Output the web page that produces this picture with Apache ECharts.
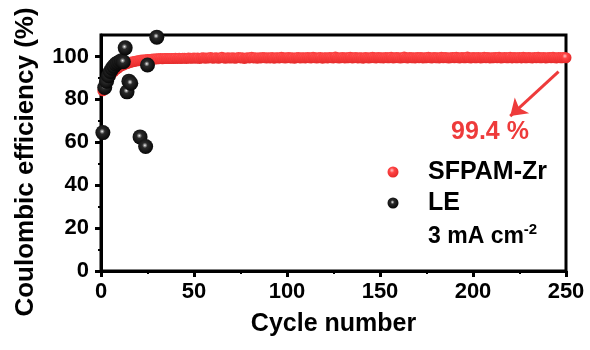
<!DOCTYPE html>
<html>
<head>
<meta charset="utf-8">
<script src="https://cdn.jsdelivr.net/npm/echarts@6/dist/echarts.min.js"></script>
<style>html,body{margin:0;padding:0;background:#fff}#c{width:590px;height:350px}</style>
</head>
<body>
<div id="c"></div>
<script>
// SFPAM-Zr coulombic efficiency, cycles 1..250
var sfpamValues = [
84.0, 86.5, 88.3, 89.8, 91.1, 92.2, 93.1, 93.9, 94.5, 95.1,
95.6, 96.0, 96.4, 96.7, 97.0, 97.3, 97.5, 97.7, 97.9, 98.0,
98.2, 98.3, 98.4, 98.5, 98.6, 98.6, 98.7, 98.8, 98.8, 98.9,
98.9, 99.0, 98.9, 99.0, 99.1, 99.0, 99.1, 99.1, 99.0, 99.2, 99.1, 99.2, 99.1, 99.2, 99.2, 99.1, 99.3, 99.2, 99.2, 99.3,
99.2, 99.3, 99.1, 99.3, 99.4, 99.2, 99.3, 99.3, 99.5, 99.2, 99.3, 99.4, 99.2, 99.3, 99.6, 99.3, 99.2, 99.4, 99.3, 99.3,
99.4, 99.2, 99.3, 99.5, 99.3, 99.4, 99.1, 99.3, 99.4, 99.3, 99.6, 99.3, 99.4, 99.2, 99.4, 99.3, 99.5, 99.4, 99.3, 99.4,
99.3, 99.5, 99.2, 99.4, 99.4, 99.3, 99.6, 99.4, 99.3, 99.4, 99.5, 99.3, 99.4, 99.2, 99.4, 99.5, 99.3, 99.4, 99.4, 99.3,
99.5, 99.4, 99.3, 99.6, 99.4, 99.3, 99.4, 99.5, 99.2, 99.4, 99.4, 99.3, 99.5, 99.4, 99.3, 99.7, 99.4, 99.3, 99.4, 99.5,
99.3, 99.4, 99.4, 99.6, 99.3, 99.4, 99.5, 99.3, 99.4, 99.4, 99.2, 99.5, 99.4, 99.3, 99.4, 99.6, 99.4, 99.3, 99.5, 99.4,
99.4, 99.3, 99.5, 99.4, 99.4, 99.6, 99.3, 99.4, 99.5, 99.4, 99.3, 99.4, 99.7, 99.4, 99.3, 99.5, 99.4, 99.4, 99.3, 99.5,
99.4, 99.5, 99.3, 99.4, 99.4, 99.6, 99.4, 99.3, 99.5, 99.4, 99.4, 99.3, 99.6, 99.4, 99.5, 99.4, 99.3, 99.4, 99.5, 99.4,
99.6, 99.4, 99.3, 99.5, 99.4, 99.4, 99.7, 99.4, 99.3, 99.5, 99.4, 99.4, 99.5, 99.3, 99.4, 99.6, 99.4, 99.5, 99.3, 99.4,
99.4, 99.5, 99.4, 99.6, 99.3, 99.4, 99.5, 99.4, 99.4, 99.6, 99.3, 99.5, 99.4, 99.4, 99.5, 99.3, 99.6, 99.4, 99.4, 99.5,
99.4, 99.3, 99.5, 99.4, 99.6, 99.4, 99.4, 99.5, 99.3, 99.4, 99.5, 99.4, 99.6, 99.4, 99.3, 99.5, 99.4, 99.4, 99.5, 99.4
];
// LE (liquid electrolyte) points
var leCycles = [1, 2, 3, 4, 5, 6, 7, 8, 9, 10, 11, 12, 13, 14, 15, 16, 21, 24, 25, 30];
var leValues = [64.5, 85.5, 88.5, 91.0, 93.0, 94.5, 95.5, 96.5, 97.0, 97.5, 98.0, 97.5, 104.0, 83.5, 88.5, 87.5, 62.5, 58.0, 96.0, 109.0];
// axis ticks
var xTicks = [0, 50, 100, 150, 200, 250];
var xMinorTicks = [25, 75, 125, 175, 225];
var yTicks = [0, 20, 40, 60, 80, 100];
var yMinorTicks = [10, 30, 50, 70, 90];
// annotation
var finalLabel = '99.4 %';
var arrowFrom = [246, 92.9];
var arrowTo = [220, 72.2];

var FONT = "'Liberation Sans', Arial, sans-serif";
var RED = '#ee3b3b';
var redBall = {type: 'radial', x: 0.4, y: 0.35, r: 0.65, colorStops: [
  {offset: 0, color: '#ffc4c4'}, {offset: 0.35, color: '#ff4444'}, {offset: 1, color: '#e42a2a'}]};
var blackBall = {type: 'radial', x: 0.45, y: 0.42, r: 0.6, colorStops: [
  {offset: 0, color: '#ffffff'}, {offset: 0.12, color: '#9a9a9a'}, {offset: 0.3, color: '#2a2a2a'}, {offset: 1, color: '#050505'}]};

var sfpamData = sfpamValues.map(function (v, i) { return [i + 1, v]; });
var leData = leCycles.map(function (c, i) { return [c, leValues[i]]; });

var chart = echarts.init(document.getElementById('c'), null, {renderer: 'canvas'});
var axisFont = {color: '#000', fontFamily: FONT, fontWeight: 'bold', fontSize: 22};
var nameFont = {color: '#000', fontFamily: FONT, fontWeight: 'bold', fontSize: 25};

chart.setOption({
  animation: false,
  grid: {left: 101, right: 24, top: 35, bottom: 79, show: true, borderColor: '#000', borderWidth: 3,
         backgroundColor: 'transparent', containLabel: false, outerBoundsMode: 'none'},
  xAxis: [{
    type: 'value', min: 0, max: 250, interval: 50,
    name: 'Cycle number', nameLocation: 'middle', nameGap: 41, nameTextStyle: nameFont,
    axisLine: {show: true, onZero: false, lineStyle: {color: '#000', width: 3}},
    axisTick: {show: true, inside: false, length: 6, lineStyle: {color: '#000', width: 3}, customValues: xTicks},
    axisLabel: Object.assign({margin: 10, customValues: xTicks}, axisFont),
    splitLine: {show: false}
  }, {
    type: 'value', min: 0, max: 250, position: 'bottom', gridIndex: 0,
    axisLine: {show: false},
    axisTick: {show: true, length: 3, lineStyle: {color: '#000', width: 2}, customValues: xMinorTicks},
    axisLabel: {show: false}, splitLine: {show: false}
  }],
  yAxis: [{
    type: 'value', min: 0, max: 110,
    name: 'Coulombic efficiency (%)', nameLocation: 'middle', nameGap: 62,
    nameTextStyle: Object.assign({}, nameFont, {fontSize: 26, padding: [0, 18, 0, 0]}),
    axisLine: {show: true, onZero: false, lineStyle: {color: '#000', width: 3}},
    axisTick: {show: true, inside: false, length: 6, lineStyle: {color: '#000', width: 3}, customValues: yTicks},
    axisLabel: Object.assign({margin: 12, customValues: yTicks}, axisFont),
    splitLine: {show: false}
  }, {
    type: 'value', min: 0, max: 110, position: 'left', gridIndex: 0,
    axisLine: {show: false},
    axisTick: {show: true, length: 3, lineStyle: {color: '#000', width: 2}, customValues: yMinorTicks},
    axisLabel: {show: false}, splitLine: {show: false}
  }],
  series: [{
    name: 'SFPAM-Zr', type: 'scatter', data: sfpamData, symbolSize: 11,
    itemStyle: {color: redBall, opacity: 1}, z: 2,
    markLine: {
      silent: true, symbol: ['none', 'arrow'], symbolSize: 16,
      lineStyle: {color: RED, width: 3, type: 'solid', opacity: 1}, itemStyle: {color: RED}, label: {show: false},
      data: [[{coord: arrowFrom}, {coord: arrowTo}]]
    }
  }, {
    name: 'LE', type: 'scatter', data: leData, symbolSize: 15,
    itemStyle: {color: blackBall, opacity: 1}, z: 3
  }],
  graphic: [
    {type: 'text', x: 490, y: 132, z: 10, style: {text: finalLabel, fill: RED, font: 'bold 25px ' + FONT, textAlign: 'center', textVerticalAlign: 'middle'}},
    {type: 'circle', shape: {cx: 393, cy: 172, r: 5.5}, style: {fill: redBall}, z: 10},
    {type: 'text', x: 428, y: 172, z: 10, style: {text: 'SFPAM-Zr', fill: '#000', font: 'bold 25px ' + FONT, textVerticalAlign: 'middle'}},
    {type: 'circle', shape: {cx: 393, cy: 203, r: 5.5}, style: {fill: blackBall}, z: 10},
    {type: 'text', x: 428, y: 203, z: 10, style: {text: 'LE', fill: '#000', font: 'bold 25px ' + FONT, textVerticalAlign: 'middle'}},
    {type: 'text', x: 428, y: 235, z: 10, style: {
      text: '{a|3 mA cm}{s|-2}', textVerticalAlign: 'middle',
      rich: {
        a: {fontFamily: FONT, fontWeight: 'bold', fontSize: 23, fill: '#000', color: '#000', lineHeight: 26, verticalAlign: 'bottom'},
        s: {fontFamily: FONT, fontWeight: 'bold', fontSize: 15, fill: '#000', color: '#000', lineHeight: 26, verticalAlign: 'top'}
      }}}
  ]
});
</script>
</body>
</html>
